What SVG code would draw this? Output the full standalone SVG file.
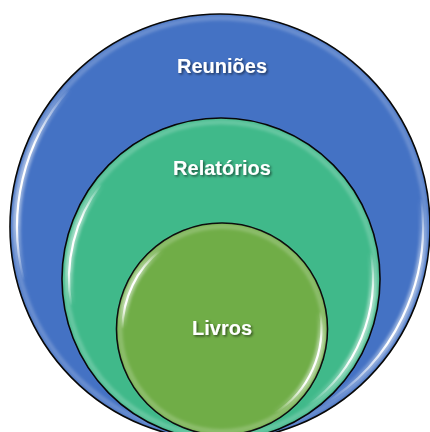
<svg xmlns="http://www.w3.org/2000/svg" width="430" height="432" viewBox="0 0 430 432">
  <defs>
    <style>
      .ring { stroke: #000; stroke-width: 1.6; }
      .label { font-family: "Liberation Sans", Arial, sans-serif; font-weight: bold; font-size: 20px; fill: #ffffff; text-anchor: middle; filter: url(#txtShadow); }
      .halo { fill: none; stroke-width: 7; stroke-linecap: round; opacity: 0.45; filter: url(#soft2); }
      .gloss { fill: none; stroke-width: 2.2; stroke-linecap: round; filter: url(#soft); }
      .rim { fill: none; stroke: #ffffff; stroke-opacity: 0.2; stroke-width: 5; filter: url(#soft2); }
    </style>
    <filter id="txtShadow" x="-20%" y="-30%" width="140%" height="170%">
      <feDropShadow dx="1.5" dy="1.5" stdDeviation="1" flood-color="#000" flood-opacity="0.55"/>
    </filter>
    <filter id="soft" x="-20%" y="-20%" width="140%" height="140%">
      <feGaussianBlur stdDeviation="0.6"/>
    </filter>
    <filter id="soft2" x="-10%" y="-10%" width="120%" height="120%">
      <feGaussianBlur stdDeviation="1.8"/>
    </filter>
    <linearGradient id="fadeV" x1="0" y1="0" x2="0" y2="1">
      <stop offset="0" stop-color="#fff" stop-opacity="0"/>
      <stop offset="0.3" stop-color="#fff" stop-opacity="1"/>
      <stop offset="0.7" stop-color="#fff" stop-opacity="1"/>
      <stop offset="1" stop-color="#fff" stop-opacity="0"/>
    </linearGradient>
  </defs>

  <g id="connectors"/>

  <g id="node-reunioes">
    <ellipse class="ring" cx="220" cy="227" rx="210" ry="213" fill="#4472C4"/>
    <ellipse class="rim" cx="220" cy="227" rx="206" ry="209"/>
    <path class="halo" stroke="url(#fadeV)" d="M 69.2 89.2 A 203 206 0 0 0 23.9 280.3"/>
    <path class="gloss" stroke="url(#fadeV)" d="M 69.2 89.2 A 203 206 0 0 0 23.9 280.3"/>
    <path class="halo" stroke="url(#fadeV)" d="M 421 198.3 A 203 206 0 0 1 321.5 405.4"/>
    <path class="gloss" stroke="url(#fadeV)" d="M 421 198.3 A 203 206 0 0 1 321.5 405.4"/>
    <text class="label" x="222" y="73">Reuniões</text>
  </g>

  <g id="node-relatorios">
    <ellipse class="ring" cx="221" cy="279" rx="159" ry="161" fill="#40B98A"/>
    <ellipse class="rim" cx="221" cy="279" rx="155" ry="157"/>
    <path class="halo" stroke="url(#fadeV)" d="M 101.2 184.2 A 152 154 0 0 0 71.3 305.8"/>
    <path class="gloss" stroke="url(#fadeV)" d="M 101.2 184.2 A 152 154 0 0 0 71.3 305.8"/>
    <path class="halo" stroke="url(#fadeV)" d="M 370.7 252.3 A 152 154 0 0 1 308.2 405.1"/>
    <path class="gloss" stroke="url(#fadeV)" d="M 370.7 252.3 A 152 154 0 0 1 308.2 405.1"/>
    <text class="label" x="222" y="175">Relatórios</text>
  </g>

  <g id="node-livros">
    <ellipse class="ring" cx="222" cy="329" rx="105.5" ry="106" fill="#70AD47"/>
    <ellipse class="rim" cx="222" cy="329" rx="102" ry="102.5"/>
    <path class="halo" stroke="url(#fadeV)" d="M 160.7 250.2 A 99.5 100 0 0 0 122.5 329"/>
    <path class="gloss" stroke="url(#fadeV)" d="M 160.7 250.2 A 99.5 100 0 0 0 122.5 329"/>
    <path class="halo" stroke="url(#fadeV)" d="M 320 311.6 A 99.5 100 0 0 1 275 413"/>
    <path class="gloss" stroke="url(#fadeV)" d="M 320 311.6 A 99.5 100 0 0 1 275 413"/>
    <text class="label" x="222" y="335">Livros</text>
  </g>
</svg>
